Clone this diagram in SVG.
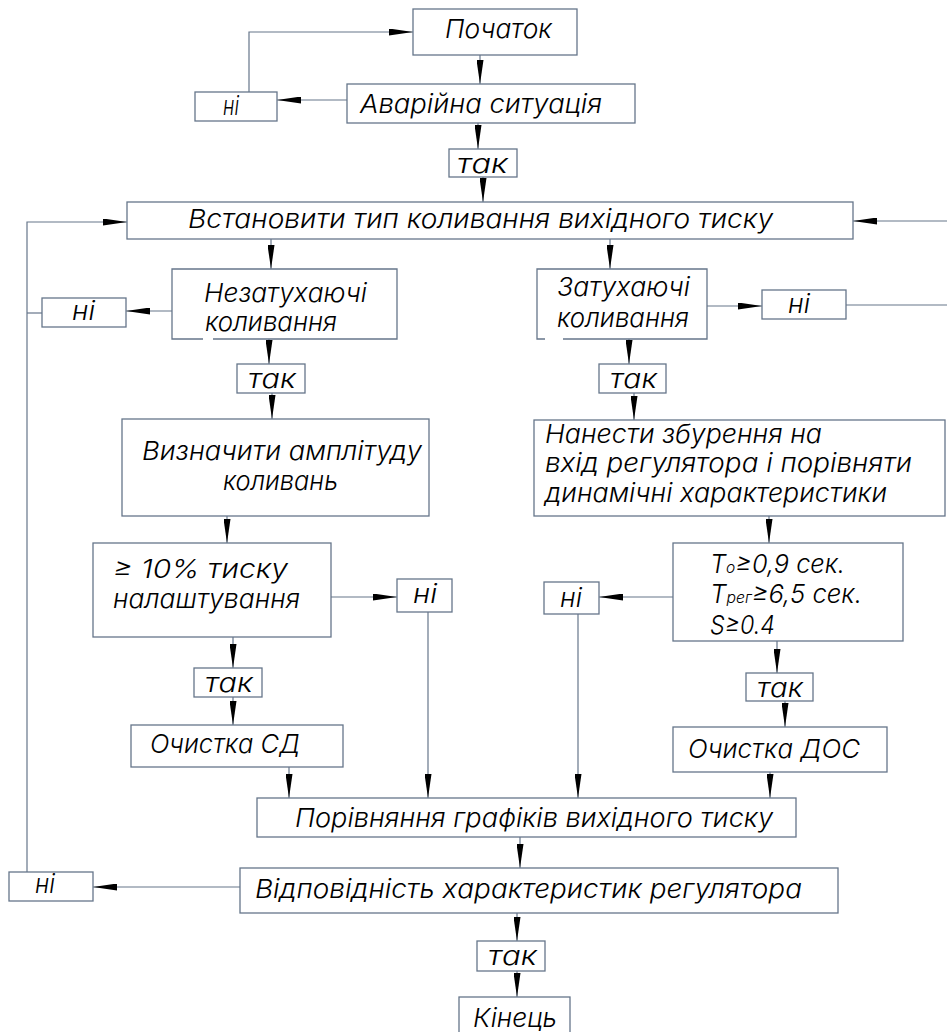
<svg xmlns="http://www.w3.org/2000/svg" width="947" height="1032" viewBox="0 0 947 1032">
<style>
.b{fill:#fff;stroke:#66768a;stroke-width:1.3}
.e{fill:none;stroke:#66768a;stroke-width:1.3}
.c{fill:none;stroke:#66768a;stroke-width:1.2}
.a{marker-end:url(#ah)}
.t{font-family:Inter,"Liberation Sans","DejaVu Sans",sans-serif;font-style:italic;font-weight:300;fill:#000;font-size:26px}
</style>
<defs>
<marker id="ah" viewBox="0 0 24 7" refX="24" refY="3.5" markerWidth="24" markerHeight="7" markerUnits="userSpaceOnUse" orient="auto">
<path d="M0,0 L24,3.5 L0,7 z" fill="#000"/>
</marker>
</defs>
<rect width="947" height="1032" fill="#fff"/>

<g id="connectors">
<line class="c a" x1="480" y1="55" x2="480" y2="84"/>
<line class="c a" x1="347" y1="100" x2="277" y2="100"/>
<polyline class="c a" points="249,92 249,32 413,32"/>
<line class="c a" x1="478" y1="123" x2="478" y2="149"/>
<line class="c a" x1="483" y1="177" x2="483" y2="202"/>
<line class="c a" x1="947" y1="221" x2="853" y2="221"/>
<polyline class="c a" points="27,872 27,222 127,222"/>
<line class="c" x1="27" y1="313" x2="42" y2="313"/>
<line class="c a" x1="271" y1="239" x2="271" y2="269"/>
<line class="c a" x1="610" y1="239" x2="610" y2="269"/>
<line class="c a" x1="172" y1="311" x2="126" y2="311"/>
<line class="c a" x1="707" y1="306" x2="762" y2="306"/>
<line class="c" x1="846" y1="305" x2="947" y2="305"/>
<line class="c a" x1="269" y1="339" x2="269" y2="364"/>
<line class="c a" x1="272" y1="393" x2="272" y2="419"/>
<line class="c a" x1="227" y1="516" x2="227" y2="543"/>
<line class="c a" x1="331" y1="597" x2="397" y2="597"/>
<line class="c a" x1="428" y1="612" x2="428" y2="798"/>
<line class="c a" x1="233" y1="637" x2="233" y2="668"/>
<line class="c a" x1="233" y1="697" x2="233" y2="725"/>
<line class="c a" x1="289" y1="767" x2="289" y2="798"/>
<line class="c a" x1="629" y1="339" x2="629" y2="364"/>
<line class="c a" x1="634" y1="393" x2="634" y2="420"/>
<line class="c a" x1="769" y1="516" x2="769" y2="543"/>
<line class="c a" x1="673" y1="597" x2="599" y2="597"/>
<line class="c a" x1="578" y1="614" x2="578" y2="798"/>
<line class="c a" x1="777" y1="641" x2="777" y2="673"/>
<line class="c a" x1="785" y1="701" x2="785" y2="727"/>
<line class="c a" x1="770" y1="772" x2="770" y2="798"/>
<line class="c a" x1="520" y1="837" x2="520" y2="868"/>
<line class="c a" x1="240" y1="887" x2="93" y2="887"/>
<line class="c a" x1="517" y1="913" x2="517" y2="941"/>
<line class="c a" x1="517" y1="971" x2="517" y2="997"/>
</g>

<g id="n-start"><rect class="b" x="413" y="9" width="164" height="46"/>
<text class="t" x="445" y="38" font-size="22" textLength="107" lengthAdjust="spacingAndGlyphs">Початок</text></g>

<g id="n-emergency"><rect class="b" x="347" y="84" width="288" height="39"/>
<text class="t" x="360" y="113" font-size="24" textLength="242" lengthAdjust="spacingAndGlyphs">Аварійна ситуація</text></g>

<g id="n-no1"><rect class="b" x="195" y="92" width="82" height="29"/>
<text class="t" x="223" y="115" font-size="23" textLength="16" lengthAdjust="spacingAndGlyphs">ні</text></g>

<g id="n-yes1"><rect class="b" x="449" y="149" width="68" height="28"/>
<text class="t" x="457" y="173" textLength="51" lengthAdjust="spacingAndGlyphs">так</text></g>

<g id="n-settype"><rect class="b" x="127" y="202" width="726" height="37"/>
<text class="t" x="188" y="228" font-size="27" textLength="585" lengthAdjust="spacingAndGlyphs">Встановити тип коливання вихідного тиску</text></g>

<g id="n-undamped"><path class="e" d="M203,339 H172 V269 H397 V339 H213"/>
<text class="t" x="204" y="302" font-size="27" textLength="163" lengthAdjust="spacingAndGlyphs">Незатухаючі</text>
<text class="t" x="205" y="331" font-size="27" textLength="132" lengthAdjust="spacingAndGlyphs">коливання</text></g>

<g id="n-damped"><path class="e" d="M545,339 H537 V269 H707 V339 H563"/>
<text class="t" x="557" y="296" font-size="27" textLength="133" lengthAdjust="spacingAndGlyphs">Затухаючі</text>
<text class="t" x="557" y="327" font-size="27" textLength="132" lengthAdjust="spacingAndGlyphs">коливання</text></g>

<g id="n-no2"><rect class="b" x="42" y="298" width="84" height="29"/>
<text class="t" x="72" y="320" font-size="23" textLength="23" lengthAdjust="spacingAndGlyphs">ні</text></g>

<g id="n-no3"><rect class="b" x="762" y="290" width="84" height="29"/>
<text class="t" x="788" y="313" font-size="23" textLength="22" lengthAdjust="spacingAndGlyphs">ні</text></g>

<g id="n-yes2"><rect class="b" x="237" y="364" width="68" height="29"/>
<text class="t" x="248" y="388" textLength="48" lengthAdjust="spacingAndGlyphs">так</text></g>

<g id="n-amplitude"><rect class="b" x="122" y="419" width="307" height="97"/>
<text class="t" x="142" y="460" font-size="25" textLength="280" lengthAdjust="spacingAndGlyphs">Визначити амплітуду</text>
<text class="t" x="223" y="490" font-size="25" textLength="115" lengthAdjust="spacingAndGlyphs">коливань</text></g>

<g id="n-ten"><rect class="b" x="93" y="543" width="238" height="94"/>
<text class="t" x="113" y="578" font-size="27" textLength="175" lengthAdjust="spacingAndGlyphs">≥ 10% тиску</text>
<text class="t" x="113" y="608" font-size="27" textLength="187" lengthAdjust="spacingAndGlyphs">налаштування</text></g>

<g id="n-no4"><rect class="b" x="397" y="579" width="55" height="33"/>
<text class="t" x="413" y="603" font-size="23" textLength="24" lengthAdjust="spacingAndGlyphs">ні</text></g>

<g id="n-yes3"><rect class="b" x="194" y="668" width="68" height="29"/>
<text class="t" x="205" y="692" textLength="48" lengthAdjust="spacingAndGlyphs">так</text></g>

<g id="n-clean-sd"><rect class="b" x="131" y="725" width="212" height="42"/>
<text class="t" x="150" y="753" textLength="150" lengthAdjust="spacingAndGlyphs">Очистка СД</text></g>

<g id="n-yes4"><rect class="b" x="599" y="364" width="67" height="29"/>
<text class="t" x="610" y="388" textLength="47" lengthAdjust="spacingAndGlyphs">так</text></g>

<g id="n-disturb"><rect class="b" x="534" y="420" width="411" height="96"/>
<text class="t" x="545" y="443" textLength="277" lengthAdjust="spacingAndGlyphs">Нанести збурення на</text>
<text class="t" x="545" y="472" textLength="367" lengthAdjust="spacingAndGlyphs">вхід регулятора і порівняти</text>
<text class="t" x="545" y="502" textLength="342" lengthAdjust="spacingAndGlyphs">динамічні характеристики</text></g>

<g id="n-criteria"><rect class="b" x="673" y="543" width="230" height="98"/>
<text class="t" x="710" y="573" font-size="25" textLength="135" lengthAdjust="spacingAndGlyphs">T<tspan font-size="16">o</tspan>≥0,9 сек.</text>
<text class="t" x="710" y="603" font-size="25" textLength="152" lengthAdjust="spacingAndGlyphs">T<tspan font-size="16">рег</tspan>≥6,5 сек.</text>
<text class="t" x="710" y="634" font-size="25" textLength="65" lengthAdjust="spacingAndGlyphs">S≥0.4</text></g>

<g id="n-no5"><rect class="b" x="544" y="582" width="55" height="32"/>
<text class="t" x="560" y="607" font-size="23" textLength="22" lengthAdjust="spacingAndGlyphs">ні</text></g>

<g id="n-yes5"><rect class="b" x="746" y="673" width="67" height="28"/>
<text class="t" x="757" y="697" textLength="46" lengthAdjust="spacingAndGlyphs">так</text></g>

<g id="n-clean-dos"><rect class="b" x="673" y="727" width="214" height="45"/>
<text class="t" x="688" y="758" textLength="172" lengthAdjust="spacingAndGlyphs">Очистка ДОС</text></g>

<g id="n-compare"><rect class="b" x="257" y="798" width="539" height="39"/>
<text class="t" x="295" y="827" font-size="27" textLength="478" lengthAdjust="spacingAndGlyphs">Порівняння графіків вихідного тиску</text></g>

<g id="n-conform"><rect class="b" x="240" y="868" width="598" height="45"/>
<text class="t" x="255" y="898" textLength="547" lengthAdjust="spacingAndGlyphs">Відповідність характеристик регулятора</text></g>

<g id="n-no6"><rect class="b" x="9" y="872" width="84" height="29"/>
<text class="t" x="35" y="893" font-size="23" textLength="20" lengthAdjust="spacingAndGlyphs">ні</text></g>

<g id="n-yes6"><rect class="b" x="477" y="941" width="68" height="30"/>
<text class="t" x="488" y="965" textLength="49" lengthAdjust="spacingAndGlyphs">так</text></g>

<g id="n-end"><rect class="b" x="459" y="997" width="111" height="40"/>
<text class="t" x="473" y="1027" font-size="26" textLength="84" lengthAdjust="spacingAndGlyphs">Кінець</text></g>
</svg>
